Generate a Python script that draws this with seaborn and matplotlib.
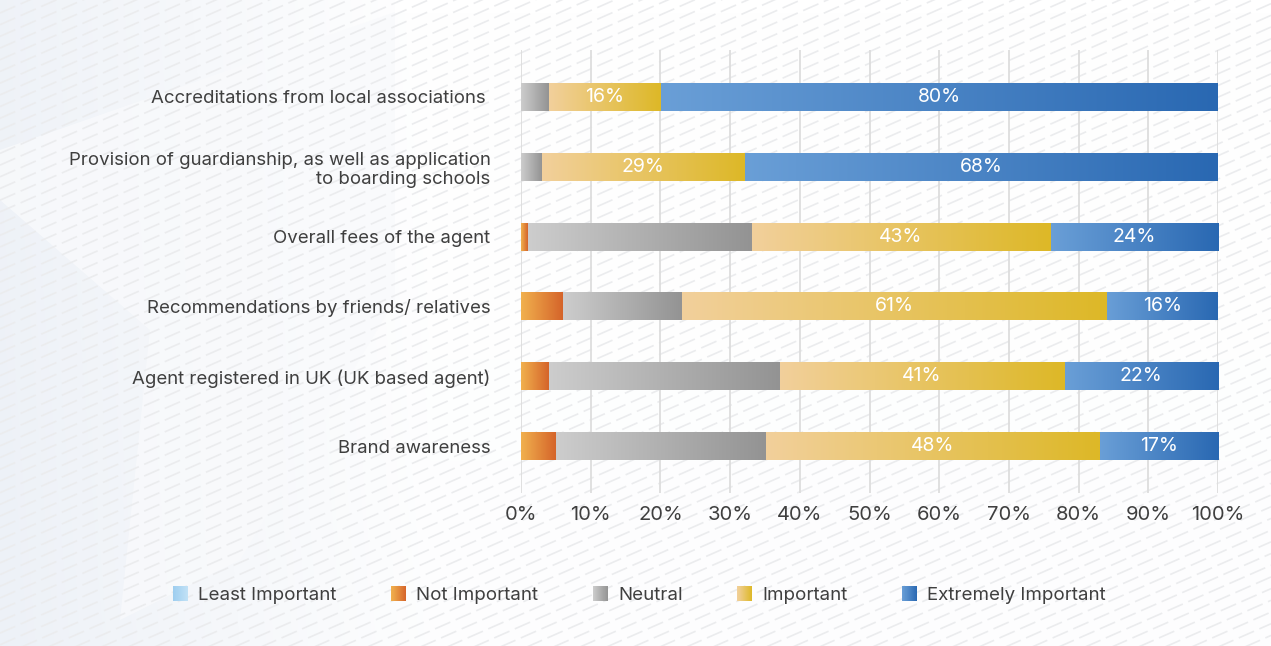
import numpy as np
import pandas as pd
import matplotlib
matplotlib.use("Agg")
import matplotlib.pyplot as plt
import seaborn as sns
from matplotlib.colors import LinearSegmentedColormap, to_rgb
from matplotlib.patches import Rectangle, Polygon
from matplotlib.legend_handler import HandlerBase
from matplotlib.collections import LineCollection

# ---- data -------------------------------------------------------------
factors = [
    "Accreditations from local associations ",
    "Provision of guardianship, as well as application\nto boarding schools",
    "Overall fees of the agent",
    "Recommendations by friends/ relatives",
    "Agent registered in UK (UK based agent)",
    "Brand awareness",
]
levels = ["Least Important", "Not Important", "Neutral", "Important", "Extremely Important"]
least_important = [0, 0, 0, 0, 0, 0]
not_important = [0, 0, 1, 6, 4, 5]
neutral = [4, 3, 32, 17, 33, 30]
important = [16, 29, 43, 61, 41, 48]
extremely_important = [80, 68, 24, 16, 22, 17]
labelled_levels = ["Important", "Extremely Important"]
x_ticks = [0, 10, 20, 30, 40, 50, 60, 70, 80, 90, 100]

# horizontal gradient (left colour, right colour) for each level
gradients = {
    "Least Important": ("#9dcdef", "#c2e2f6"),
    "Not Important": ("#f1b14e", "#d5642a"),
    "Neutral": ("#cdcdcd", "#939393"),
    "Important": ("#f2d09c", "#ddb827"),
    "Extremely Important": ("#6a9fd7", "#2968b2"),
}

values = {
    "Least Important": least_important,
    "Not Important": not_important,
    "Neutral": neutral,
    "Important": important,
    "Extremely Important": extremely_important,
}
df = pd.DataFrame({"factor": factors, **values})
long = df.melt(id_vars="factor", var_name="level", value_name="share")
long["level"] = pd.Categorical(long["level"], levels, ordered=True)
long = long.sort_values(["factor", "level"])
long["cum"] = long.groupby("factor", sort=False)["share"].cumsum()

# ---- style ------------------------------------------------------------
sns.set_theme(style="white")
plt.rcParams["font.family"] = ["Inter", "DejaVu Sans"]
TEXT = "#3f3f3f"

W, H = 1271, 646
fig = plt.figure(figsize=(W / 100, H / 100), dpi=100)
fig.patch.set_facecolor("#fafbfd")

# ---- decorative background -------------------------------------------
bg = fig.add_axes([0, 0, 1, 1], zorder=-10)
bg.set_xlim(0, W)
bg.set_ylim(H, 0)
bg.axis("off")

# soft blue-grey wash fading out towards the right
xx = np.linspace(0, 1, 400)[None, :]
yy = np.linspace(0, 1, 200)[:, None]
tint = np.clip(1 - xx * W / 430, 0, 1) * 0.9 + 0.1 * yy
base = np.array(to_rgb("#ffffff"))
blue = np.array(to_rgb("#edf1f7"))
wash = base[None, None, :] * (1 - tint[..., None]) + blue[None, None, :] * tint[..., None]
bg.imshow(wash, extent=(0, W, H, 0), aspect="auto", zorder=0, interpolation="bilinear")
bg.add_patch(Polygon([(0, 150), (0, 200), (150, 330), (120, 620), (240, 560), (395, 300),
                      (395, 12)], closed=True, facecolor="#f9fafc", edgecolor="none",
                     alpha=0.8, zorder=1))
bg.add_patch(Rectangle((395, 0), W - 395, 13, facecolor="#ffffff", edgecolor="none", zorder=1))

segs = []
for y0 in np.arange(13, H + 600, 11.7):
    segs.append([(0, y0), (W, y0 - 0.44 * W)])
hatch = LineCollection(segs, colors="#ebecee", linewidths=1.2,
                       linestyles=(0, (10, 3.5)), zorder=2)
hatch.set_clip_path(Rectangle((8, 13), W, H, transform=bg.transData))
bg.add_collection(hatch)

# ---- stacked bars -----------------------------------------------------
ax = fig.add_axes([521 / W, 1 - 493 / H, 697 / W, 443 / H])
ax.patch.set_alpha(0)

segments = []
for lev in reversed(levels):
    sub = long[long["level"] == lev]
    before = len(ax.patches)
    c0, c1 = gradients[lev]
    sns.barplot(data=sub, x="cum", y="factor", order=factors, orient="h",
                color=c1, saturation=1, width=0.4, linewidth=0, ax=ax, zorder=2)
    new = ax.patches[before:]
    shares = sub.set_index("factor").loc[factors, "share"].to_numpy()
    for p, v in zip(new, shares):
        segments.append((lev, p, v))

for lev, p, v in segments:
    if v <= 0:
        continue
    right = p.get_width()
    left = right - v
    y0, h = p.get_y(), p.get_height()
    cmap = LinearSegmentedColormap.from_list(lev, gradients[lev])
    ax.imshow(np.linspace(0, 1, 256)[None, :], cmap=cmap, aspect="auto",
              extent=(left, right, y0 + h, y0), zorder=3, interpolation="bilinear")
    if lev in labelled_levels:
        ax.text((left + right) / 2, y0 + h / 2, f"{v}%", color="white",
                ha="center", va="center", fontsize=14, zorder=4)

ax.set_xlim(0, 100)
ax.set_ylim(len(factors) - 1 + 0.67, -0.67)
ax.set_xticks(x_ticks)
ax.set_xticklabels([f"{t}%" for t in x_ticks])
ax.set_xlabel("")
ax.set_ylabel("")
ax.set_axisbelow(True)
ax.xaxis.grid(True, color="#dddddd", linewidth=1.3, zorder=0)
ax.yaxis.grid(False)
for s in ax.spines.values():
    s.set_visible(False)
ax.tick_params(axis="x", length=0, pad=9, labelsize=14.5, labelcolor=TEXT)
ax.tick_params(axis="y", length=0, pad=22, labelsize=13.4, labelcolor=TEXT)
for lbl in ax.get_yticklabels():
    lbl.set_horizontalalignment("right")
    lbl.set_multialignment("right")

# ---- legend with gradient swatches ------------------------------------
class GradientSwatch(HandlerBase):
    def __init__(self, c0, c1, steps=30):
        super().__init__()
        self.c0 = np.array(to_rgb(c0))
        self.c1 = np.array(to_rgb(c1))
        self.steps = steps

    def create_artists(self, legend, orig_handle, xdescent, ydescent,
                       width, height, fontsize, trans):
        side = min(width, height)
        x0 = -xdescent
        y0 = -ydescent + (height - side) / 2
        step = side / self.steps
        arts = []
        for i in range(self.steps):
            t = i / (self.steps - 1)
            col = self.c0 * (1 - t) + self.c1 * t
            arts.append(Rectangle((x0 + i * step, y0), step * 1.05, side,
                                  facecolor=col, edgecolor="none", transform=trans))
        return arts

handles = [Rectangle((0, 0), 1, 1, label=lev) for lev in levels]
handler_map = {h: GradientSwatch(*gradients[lev]) for h, lev in zip(handles, levels)}
fig.legend(handles=handles, labels=levels, handler_map=handler_map,
           loc="center", bbox_to_anchor=(0.503, 1 - 595 / H), ncol=5, frameon=False,
           fontsize=13.5, labelcolor=TEXT, handlelength=0.9, handleheight=0.9,
           handletextpad=0.45, columnspacing=2.9)

fig.savefig("out.png", dpi=100, facecolor=fig.get_facecolor())
